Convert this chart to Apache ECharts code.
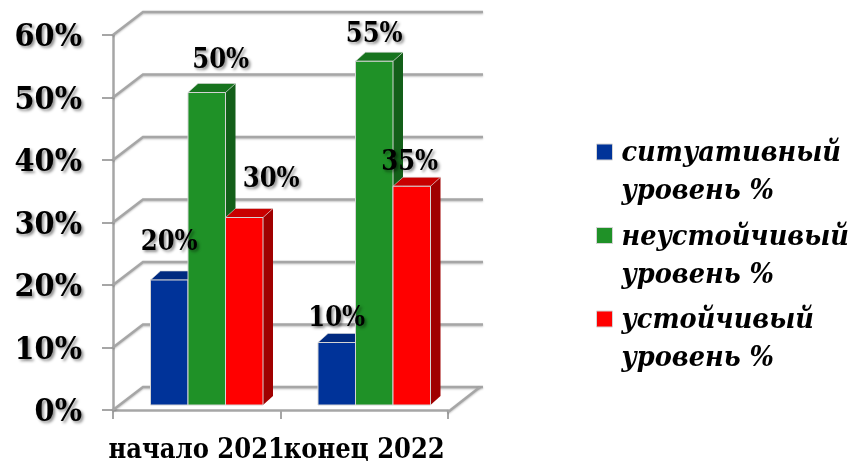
<!DOCTYPE html>
<html>
<head>
<meta charset="utf-8">
<style>
  html, body { margin: 0; padding: 0; background: #fff; }
  #chart { width: 853px; height: 461px; }
</style>
<script src="https://cdn.jsdelivr.net/npm/echarts@6/dist/echarts.min.js"></script>
</head>
<body>
<div id="chart"></div>
<script>
const categories = ['начало 2021', 'конец 2022']
const yTicks = [0, 10, 20, 30, 40, 50, 60]
const situational = [20, 10]
const unstable = [50, 55]
const stable = [30, 35]

const serifFont = '"DejaVu Serif Condensed", "DejaVu Serif", serif'
const gridColor = '#a6a6a6'
// fake 3d: how far the back wall sits from the front plane
const wallDx = 30
const wallDy = -23
const barDepthX = 10
const barDepthY = -9
const barWidth = 37.5
const barShiftX = 10
const barShiftY = -5

const textShadow = {
  textShadowColor: 'rgba(0,0,0,0.45)',
  textShadowBlur: 3,
  textShadowOffsetX: 2,
  textShadowOffsetY: 2
}

function renderWall(params, api) {
  const cs = params.coordSys
  const y = api.coord([0, api.value(1)])[1]
  const style = { fill: null, stroke: gridColor, lineWidth: 2.5, shadowBlur: 2, shadowColor: 'rgba(0,0,0,0.25)', shadowOffsetY: 1 }
  const left = cs.x
  const right = cs.x + cs.width
  const children = [{
    type: 'polyline',
    shape: { points: [[left, y], [left + wallDx, y + wallDy], [right + wallDx + 5, y + wallDy]] },
    style
  }]
  // the floor's right edge only exists on the zero line
  if (api.value(1) === 0) {
    children.push({
      type: 'line',
      shape: { x1: right, y1: y + 2, x2: right + wallDx + 2, y2: y + wallDy },
      style
    })
  }
  return { type: 'group', children }
}

function makeBarRenderer(groupIndex, front, top, side, labelShift) {
  return function (params, api) {
    const i = api.value(0)
    const value = api.value(1)
    const base = api.coord([i, 0])
    const head = api.coord([i, value])
    const x0 = base[0] + barShiftX + (groupIndex - 1.5) * barWidth
    const x1 = x0 + barWidth
    const yBase = base[1] + barShiftY
    const yTop = head[1] + barShiftY
    const dx = barDepthX
    const dy = barDepthY
    const shift = labelShift[i]
    return {
      type: 'group',
      children: [
        {
          type: 'polygon',
          shape: { points: [[x1, yBase], [x1 + dx, yBase + dy], [x1 + dx, yTop + dy], [x1, yTop]] },
          style: { fill: side }
        },
        {
          type: 'polygon',
          shape: { points: [[x0, yTop], [x0 + dx, yTop + dy], [x1 + dx, yTop + dy], [x1, yTop]] },
          style: { fill: top, stroke: '#d9d9d9', lineWidth: 0.6 }
        },
        {
          type: 'rect',
          shape: { x: x0, y: yTop, width: barWidth, height: yBase - yTop },
          style: { fill: front, stroke: '#d4d4d4', lineWidth: 1 }
        },
        {
          type: 'text',
          z2: 100,
          x: (x0 + x1) / 2 + shift[0],
          y: yTop + shift[1],
          style: Object.assign({
            text: value + '%',
            align: 'center',
            verticalAlign: 'middle',
            fill: '#000',
            font: 'bold 27px ' + serifFont
          }, textShadow)
        }
      ]
    }
  }
}

function toPoints(values) {
  return values.map((v, i) => [i, v])
}

const chart = echarts.init(document.getElementById('chart'), null, { renderer: 'canvas' })

chart.setOption({
  animation: false,
  backgroundColor: '#fff',
  grid: { left: 113, right: 405, top: 35, bottom: 51, outerBoundsMode: 'none' },
  legend: {
    left: 596,
    top: 109,
    height: 340,
    padding: 0,
    orient: 'vertical',
    icon: 'rect',
    itemWidth: 16,
    itemHeight: 16,
    itemGap: -14,
    selectedMode: false,
    data: ['ситуативный\nуровень %', 'неустойчивый\nуровень %', 'устойчивый\nуровень %'],
    // blank first line keeps the marker level with the first line of text
    formatter: name => '{b| }\n' + name.split('\n').map(s => '{t|' + s + '}').join('\n'),
    itemStyle: { borderColor: '#d4d4d4', borderWidth: 1 },
    textStyle: {
      color: '#000',
      rich: {
        b: { lineHeight: 42, fontSize: 10 },
        t: {
          fontFamily: serifFont,
          fontWeight: 'bold',
          fontStyle: 'italic',
          fontSize: 28.5,
          lineHeight: 38,
          padding: [0, 0, 0, 4]
        }
      }
    }
  },
  xAxis: {
    type: 'category',
    data: categories,
    axisLine: { lineStyle: { color: gridColor, width: 2.5 } },
    axisTick: { show: true, length: 9, lineStyle: { color: gridColor, width: 2 } },
    axisLabel: {
      interval: 0,
      margin: 27,
      color: '#000',
      fontFamily: serifFont,
      fontWeight: 'bold',
      fontSize: 27
    }
  },
  yAxis: {
    type: 'value',
    min: 0,
    max: 60,
    interval: 10,
    splitLine: { show: false },
    axisLine: { show: true, lineStyle: { color: gridColor, width: 2.5 } },
    axisTick: { show: true, length: 11, lineStyle: { color: gridColor, width: 2 } },
    axisLabel: Object.assign({
      margin: 31,
      // top-anchored with a short line box: sits a few px under the tick
      verticalAlign: 'top',
      lineHeight: 6,
      color: '#000',
      fontFamily: serifFont,
      fontWeight: 'bold',
      fontSize: 32,
      formatter: '{value}%'
    }, textShadow)
  },
  series: [
    {
      type: 'custom',
      name: 'wall',
      silent: true,
      renderItem: renderWall,
      encode: { x: 0, y: 1 },
      data: yTicks.map(v => [0, v])
    },
    {
      type: 'custom',
      name: 'ситуативный\nуровень %',
      itemStyle: { color: '#003399' },
      renderItem: makeBarRenderer(0, '#003399', '#002a80', '#00226a', [[0, -37], [0, -24]]),
      encode: { x: 0, y: 1 },
      data: toPoints(situational)
    },
    {
      type: 'custom',
      name: 'неустойчивый\nуровень %',
      itemStyle: { color: '#1f9127' },
      renderItem: makeBarRenderer(1, '#1f9127', '#17741e', '#135f19', [[14, -32], [0, -26]]),
      encode: { x: 0, y: 1 },
      data: toPoints(unstable)
    },
    {
      type: 'custom',
      name: 'устойчивый\nуровень %',
      itemStyle: { color: '#ff0000' },
      renderItem: makeBarRenderer(2, '#ff0000', '#c80000', '#a00000', [[27, -38], [-2, -23]]),
      encode: { x: 0, y: 1 },
      data: toPoints(stable)
    }
  ]
})
</script>
</body>
</html>
